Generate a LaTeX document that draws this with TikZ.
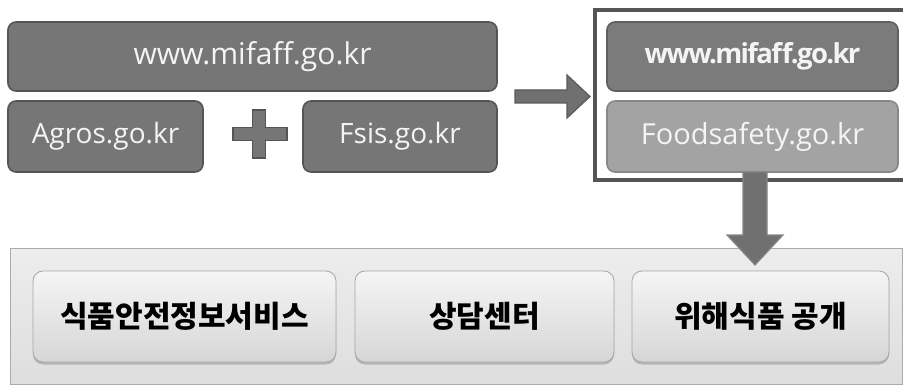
\documentclass[tikz,border=0pt]{standalone}
\usepackage{fontspec}
\setmainfont{Open Sans}
\newfontfamily\kr{Noto Sans CJK KR}
\usetikzlibrary{shadows,calc}
\definecolor{boxfill}{HTML}{767676}
\definecolor{boxline}{HTML}{555555}
\definecolor{wwwfill}{HTML}{7B7B7B}
\definecolor{wwwline}{HTML}{5F5F5F}
\definecolor{foodfill}{HTML}{A3A3A3}
\definecolor{foodline}{HTML}{888888}
\definecolor{arrfill}{HTML}{707070}
\definecolor{arrline}{HTML}{595959}
\definecolor{txtwhite}{HTML}{F4F4F4}
\begin{document}
\begin{tikzpicture}[x=1pt,y=-1pt,
  darkbox/.style={rectangle,rounded corners=8pt,fill=boxfill,draw=boxline,line width=1.6pt,
    text=txtwhite,font=\fontsize{28}{32}\selectfont,inner sep=0pt},
  rwww/.style={darkbox,fill=wwwfill,draw=wwwline},
  rfood/.style={darkbox,fill=foodfill,draw=foodline},
  panelbox/.style={rectangle,draw=black!33,line width=0.8pt,top color=black!7,bottom color=black!13},
  button/.style={rectangle,rounded corners=10pt,draw=black!35,line width=0.8pt,
    top color=black!4,bottom color=black!16,
    drop shadow={shadow xshift=0pt,shadow yshift=-2.5pt,opacity=0.35,fill=black!60},
    font=\kr\bfseries\fontsize{30}{34}\selectfont,text=black,inner sep=0pt},
  blockarrow/.style={fill=arrfill,draw=arrline,line width=1.2pt,line join=miter},
]
\useasboundingbox (0,0) rectangle (903,385);
% top-left group
\node[darkbox,minimum width=489pt,minimum height=69pt] (mifaff) at (252.5,56.5)
  {\fontsize{30}{34}\selectfont www.mifaff.go.kr};
\node[darkbox,minimum width=195pt,minimum height=71pt] (agros) at (105.5,136.5) {Agros.go.kr};
\node[darkbox,minimum width=194pt,minimum height=71pt] (fsis) at (400,136.5) {Fsis.go.kr};
% plus sign
\coordinate (plus) at (259,134);
\draw[blockarrow,fill=boxfill,draw=boxline]
  ($(plus)+(-26,-6.5)$) -- ($(plus)+(-6.5,-6.5)$) -- ($(plus)+(-6.5,-24)$) -- ($(plus)+(6.5,-24)$)
  -- ($(plus)+(6.5,-6.5)$) -- ($(plus)+(28,-6.5)$) -- ($(plus)+(28,6.5)$) -- ($(plus)+(6.5,6.5)$)
  -- ($(plus)+(6.5,24)$) -- ($(plus)+(-6.5,24)$) -- ($(plus)+(-6.5,6.5)$) -- ($(plus)+(-26,6.5)$) -- cycle;
% right frame
\node[rectangle,draw=boxline,line width=3.5pt,minimum width=310pt,minimum height=170pt,inner sep=0pt] (frame) at (750,95) {};
\node[rwww,minimum width=291pt,minimum height=69pt] (rmifaff) at (752.5,56.5)
  {\bfseries\fontsize{27.5}{32}\selectfont\addfontfeatures{LetterSpace=-6}www.mifaff.go.kr};
\node[rfood,minimum width=291pt,minimum height=71pt] (food) at (752.5,136.5)
  {\fontsize{29}{33}\selectfont Foodsafety.go.kr};
% right arrow
\coordinate (ra) at (515,96.5);
\draw[blockarrow]
  ($(ra)+(0,-6.5)$) -- ($(ra)+(52,-6.5)$) -- ($(ra)+(52,-21.5)$) -- ($(ra)+(75,0)$)
  -- ($(ra)+(52,21.5)$) -- ($(ra)+(52,6.5)$) -- ($(ra)+(0,6.5)$) -- cycle;
% bottom panel
\node[panelbox,minimum width=892pt,minimum height=136pt,inner sep=0pt] (panel) at (456,316) {};
\node[button,minimum width=303pt,minimum height=91pt] (b1) at (184.5,316.5) {식품안전정보서비스};
\node[button,minimum width=259pt,minimum height=91pt] (b2) at (484.5,316.5) {상담센터};
\node[button,minimum width=257pt,minimum height=91pt] (b3) at (760.5,316.5) {위해식품 공개};
% down arrow
\coordinate (da) at (755,172);
\draw[blockarrow,draw=black!48]
  ($(da)+(-12,0)$) -- ($(da)+(12,0)$) -- ($(da)+(12,63)$) -- ($(da)+(28,63)$)
  -- ($(da)+(0,93)$) -- ($(da)+(-28,63)$) -- ($(da)+(-12,63)$) -- cycle;
\end{tikzpicture}
\end{document}
